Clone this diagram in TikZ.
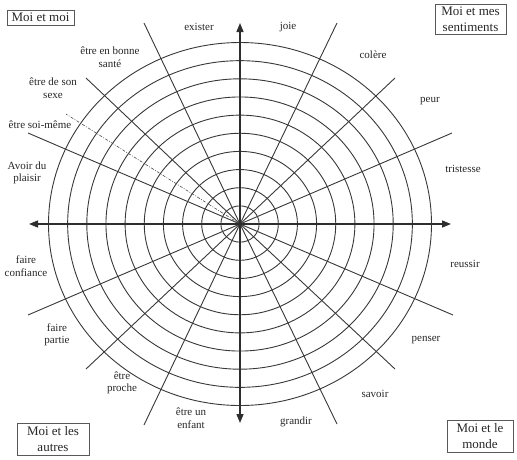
\documentclass[tikz,border=0pt]{standalone}
\usepackage{fontspec}
\setmainfont{Liberation Serif}
\usetikzlibrary{arrows.meta}
\tikzset{
  ring/.style={draw=black!78, line width=0.9pt},
  spoke/.style={draw=black!78, line width=0.9pt},
  axis/.style={draw=black!82, line width=1.4pt, {Triangle[length=9pt,width=7pt]}-{Triangle[length=9pt,width=7pt]}},
  dashspoke/.style={draw=black!70, line width=0.6pt, dash pattern=on 3pt off 1.5pt on 0.8pt off 1.5pt},
  lab/.style={font=\fontsize{11}{12.5}\selectfont, align=center, inner sep=0pt, text=black!85},
  boxlab/.style={font=\fontsize{13}{16}\selectfont, align=center, draw=black!65, line width=0.6pt, inner xsep=2pt, inner ysep=1pt, text=black!85}
}
\begin{document}
\begin{tikzpicture}[x=1pt,y=-1pt]
\useasboundingbox (0,0) rectangle (517,459);
\coordinate (O) at (240,224);
% rings
\foreach \k in {1,...,10}{
  \draw[ring] (O) ellipse [x radius={19.15pt*\k}, y radius={18.15pt*\k}];
}
% spoke ends
\coordinate (s1) at (144,23);
\coordinate (s2) at (86,78);
\coordinate (s3) at (28,133);
\coordinate (s4) at (337,23);
\coordinate (s5) at (395,78);
\coordinate (s6) at (452,133);
\coordinate (s7) at (28,315);
\coordinate (s8) at (86,369);
\coordinate (s9) at (144,425);
\coordinate (s10) at (453,315);
\coordinate (s11) at (395,369);
\coordinate (s12) at (337,424);
\coordinate (d1) at (66,114);
\foreach \e in {s1,s2,s3,s4,s5,s6,s7,s8,s9,s10,s11,s12}{
  \draw[spoke] (O) -- (\e);
}
\draw[dashspoke] (O) -- (d1);
% axes
\coordinate (aL) at (29,224);
\coordinate (aR) at (451,224);
\coordinate (aT) at (240,23);
\coordinate (aB) at (240,423);
\draw[axis] (aL) -- (aR);
\draw[axis] (aB) -- (aT);
% labels
\node[lab] (exister) at (199,27) {exister};
\node[lab] (joie) at (288,27) {joie};
\node[lab] (colere) at (373,55) {colère};
\node[lab] (peur) at (430,101) {peur};
\node[lab] (tristesse) at (463,169) {tristesse};
\node[lab] (reussir) at (465,264) {reussir};
\node[lab] (penser) at (426,340) {penser};
\node[lab] (savoir) at (375,394) {savoir};
\node[lab] (grandir) at (296,422) {grandir};
\node[lab] (enfant) at (191,418) {être un\\enfant};
\node[lab] (proche) at (122,383) {être\\proche};
\node[lab] (partie) at (57,335) {faire\\partie};
\node[lab] (confiance) at (26,266) {faire\\confiance};
\node[lab] (plaisir) at (27,173) {Avoir du\\plaisir};
\node[lab] (soimeme) at (40,125) {être soi-même};
\node[lab] (sexe) at (53,88) {être de son\\sexe};
\node[lab] (sante) at (110,57) {être en bonne\\santé};
% boxes
\node[boxlab, minimum width=67pt, minimum height=15pt] (moi) at (40.5,17.5) {Moi et moi};
\node[boxlab, minimum width=71pt, minimum height=30pt] (sent) at (470.5,19) {Moi et mes\\sentiments};
\node[boxlab, minimum width=72pt, minimum height=32pt] (autres) at (53,439) {Moi et les\\autres};
\node[boxlab, minimum width=66pt, minimum height=32pt] (monde) at (480,436) {Moi et le\\monde};
\end{tikzpicture}
\end{document}
